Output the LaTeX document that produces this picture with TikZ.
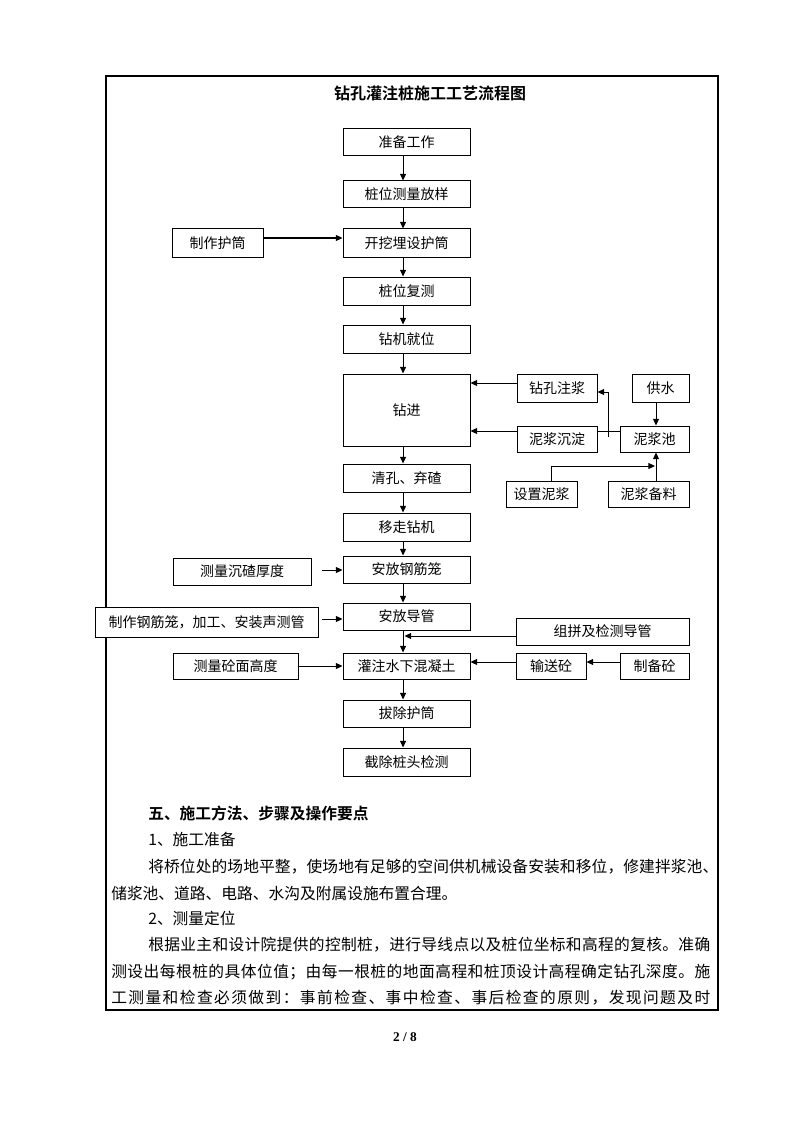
\documentclass[tikz,border=0pt]{standalone}
\usepackage{fontspec}
\setmainfont{Noto Sans CJK SC}[BoldFont={Noto Sans CJK SC Bold}]
\newfontfamily\numfont{Liberation Serif}
\usetikzlibrary{arrows.meta}
\def\spreadchars#1{\ifx#1\relax\unskip\else#1\hfil\expandafter\spreadchars\fi}
\newcommand\jline[2]{\hbox to #1{\spreadchars#2\relax}}
\newcommand\boxfont{\fontsize{10.5pt}{12pt}\selectfont}
\newcommand\bodyfont{\fontsize{11.8pt}{14pt}\selectfont}
\tikzset{
  bx/.style={draw, line width=0.75pt, fill=white, inner sep=0pt, font=\boxfont},
  arr/.style={-{Triangle[width=4.5pt,length=5pt]}, line width=0.75pt},
  ln/.style={line width=0.75pt},
  txt/.style={inner sep=0pt, anchor=west, font=\bodyfont},
  frame/.style={line width=1pt}
}
\newcommand\fbx[6]{\node[bx, minimum width={(#4-#2)*0.75pt}, minimum height={(#5-#3)*0.75pt}] (#1) at ({(#2+#4)/2},{(#3+#5)/2}) {#6};}
\begin{document}
\begin{tikzpicture}[x=0.75pt, y=-0.75pt]
\useasboundingbox (0,0) rectangle (794,1123);
\draw[frame] (106,76) rectangle (718,1010);
\node[inner sep=0pt, font=\bfseries\fontsize{12pt}{14pt}\selectfont] (title) at (430,93) {钻孔灌注桩施工工艺流程图};
% main column
\fbx{zb}{343}{129}{470}{156}{准备工作}
\fbx{cl}{343}{181}{470}{208}{桩位测量放样}
\fbx{kw}{343}{229}{470}{257}{开挖埋设护筒}
\fbx{fc}{343}{277}{470}{305}{桩位复测}
\fbx{jw}{343}{325}{470}{353}{钻机就位}
\fbx{zj}{343}{374}{470}{446}{钻进}
\fbx{qk}{343}{464}{470}{492}{清孔、弃碴}
\fbx{yz}{343}{513}{470}{541}{移走钻机}
\fbx{gjl}{343}{556}{470}{583}{安放钢筋笼}
\fbx{dg}{343}{603}{470}{630}{安放导管}
\fbx{gz}{343}{653}{470}{679}{灌注水下混凝土}
\fbx{bc}{343}{700}{470}{727}{拔除护筒}
\fbx{jc}{343}{748}{470}{776}{截除桩头检测}
% left column
\fbx{zzhc}{172}{229}{263}{257}{制作护筒}
\fbx{clcz}{173}{558}{311}{585}{测量沉碴厚度}
\fbx{zzgj}{95}{607}{318}{637}{制作钢筋笼，加工、安装声测管}
\fbx{clmg}{173}{653}{298}{679}{测量砼面高度}
% right column
\fbx{zkzj}{517}{374}{597}{402}{钻孔注浆}
\fbx{gs}{632}{374}{689}{402}{供水}
\fbx{njcd}{517}{426}{597}{452}{泥浆沉淀}
\fbx{njc}{620}{426}{689}{452}{泥浆池}
\fbx{sznj}{506}{481}{577}{507}{设置泥浆}
\fbx{njbl}{608}{481}{689}{507}{泥浆备料}
\fbx{zpjc}{516}{618}{689}{645}{组拼及检测导管}
\fbx{ssh}{516}{653}{586}{679}{输送砼}
\fbx{zbh}{620}{653}{689}{679}{制备砼}
% main flow arrows
\foreach \a/\b in {zb/cl, cl/kw, kw/fc, fc/jw, jw/zj, zj/qk, qk/yz, yz/gjl, gjl/dg, dg/gz, gz/bc, bc/jc}
  \draw[arr] ([xshift=-2.6pt]\a.south) -- ([xshift=-2.6pt]\b.north);
% side arrows
\draw[arr] (zzhc.east |- 0,238) -- (kw.west |- 0,238);
\coordinate (s1) at (322,570);
\draw[arr] (s1) -- (gjl.west |- s1);
\coordinate (s2) at (322,619);
\draw[arr] (s2) -- (dg.west |- s2);
\coordinate (t1) at (404.5,636);
\draw[arr] (zpjc.west |- t1) -- (t1);
\draw[arr] (clmg.east |- 0,666) -- (gz.west |- 0,666);
\draw[arr] (ssh.west |- 0,662) -- (gz.east |- 0,662);
\draw[arr] (zbh.west |- 0,662) -- (ssh.east |- 0,662);
\draw[arr] (zkzj.west |- 0,383) -- (zj.east |- 0,383);
\draw[arr] (njcd.west |- 0,431) -- (zj.east |- 0,431);
\draw[ln] (njc.west |- 0,431) -- (njcd.east |- 0,431);
\coordinate (v1) at (608,437);
\draw[arr] (v1) |- (zkzj.east |- 0,392);
\draw[arr] (gs.south -| 656,0) -- (njc.north -| 656,0);
\draw[arr] (njbl.north -| 656,0) -- (njc.south -| 656,0);
\coordinate (u1) at (655,466);
\draw[arr] (sznj.north -| 551,0) |- (u1);
% text
\node[txt, font=\bfseries\bodyfont] (h5) at (148,813) {五、施工方法、步骤及操作要点};
\node[txt] (p1) at (148,839) {1、施工准备};
\node[txt] (p2) at (148,867) {\jline{427.5pt}{将桥位处的场地平整，使场地有足够的空间供机械设备安装和移位，修建拌浆池、}};
\node[txt] (p3) at (111,894) {储浆池、道路、电路、水沟及附属设施布置合理。};
\node[txt] (p4) at (148,918) {2、测量定位};
\node[txt] (p5) at (148,945) {\jline{421.5pt}{根据业主和设计院提供的控制桩，进行导线点以及桩位坐标和高程的复核。准确}};
\node[txt] (p6) at (111,972) {\jline{449.25pt}{测设出每根桩的具体位值；由每一根桩的地面高程和桩顶设计高程确定钻孔深度。施}};
\node[txt] (p7) at (111,998) {\jline{449.25pt}{工测量和检查必须做到：事前检查、事中检查、事后检查的原则，发现问题及时}};
\node[inner sep=0pt, font=\numfont\bfseries\fontsize{10pt}{12pt}\selectfont] (pg) at (405,1037) {2 / 8};
\end{tikzpicture}
\end{document}
